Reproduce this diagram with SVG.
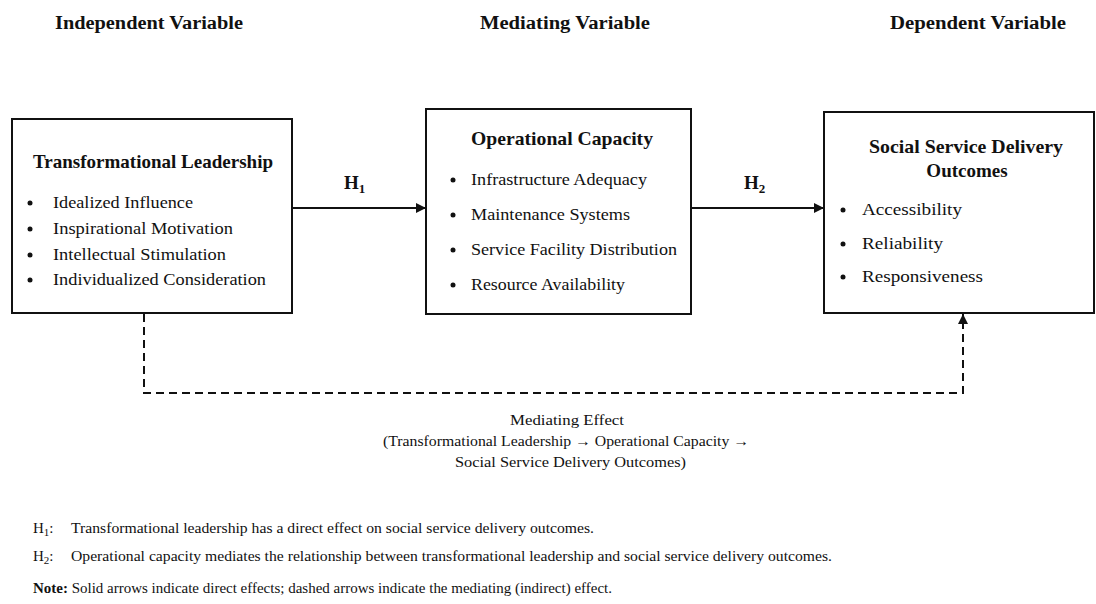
<svg xmlns="http://www.w3.org/2000/svg" width="1096" height="604" viewBox="0 0 1096 604">
<style>
text{font-family:"Liberation Serif","Times New Roman",serif;fill:#111}
.hd{font-size:18px;font-weight:bold}
.tt{font-size:19px;font-weight:bold}
.it{font-size:17px}
.md{font-size:15px}
.ft{font-size:15px}
.box{fill:#fff;stroke:#111;stroke-width:2}
.sol{stroke:#111;stroke-width:2;fill:none}
.dash{stroke:#111;stroke-width:2;fill:none;stroke-dasharray:8 5}
.bul{fill:#111}
</style>
<defs>
<marker id="ah" markerWidth="10" markerHeight="10" refX="10" refY="5" orient="auto" markerUnits="userSpaceOnUse">
<path d="M0,0 L10,5 L0,10 Z" fill="#111"/>
</marker>
</defs>
<rect width="1096" height="604" fill="#fff"/>
<g id="headers">
<text class="hd" x="55" y="29" textLength="188" lengthAdjust="spacingAndGlyphs">Independent Variable</text>
<text class="hd" x="480" y="29" textLength="170" lengthAdjust="spacingAndGlyphs">Mediating Variable</text>
<text class="hd" x="890" y="29" textLength="176" lengthAdjust="spacingAndGlyphs">Dependent Variable</text>
</g>
<g id="connectors">
<line class="sol" x1="292" y1="208" x2="426" y2="208" marker-end="url(#ah)"/>
<line class="sol" x1="691" y1="208" x2="824" y2="208" marker-end="url(#ah)"/>
<polyline class="dash" points="144,314 144,393 963,393 963,314" marker-end="url(#ah)"/>
<text class="tt" x="344" y="189">H<tspan font-size="13" dy="4">1</tspan></text>
<text class="tt" x="744" y="189">H<tspan font-size="13" dy="4">2</tspan></text>
</g>
<g id="node-tl">
<rect class="box" x="12" y="119" width="280" height="194"/>
<text class="tt" x="33" y="168" textLength="240" lengthAdjust="spacingAndGlyphs">Transformational Leadership</text>
<circle class="bul" cx="30" cy="203" r="2.5"/>
<text class="it" x="53" y="208" textLength="140" lengthAdjust="spacingAndGlyphs">Idealized Influence</text>
<circle class="bul" cx="30" cy="229" r="2.5"/>
<text class="it" x="53" y="234" textLength="180" lengthAdjust="spacingAndGlyphs">Inspirational Motivation</text>
<circle class="bul" cx="30" cy="255" r="2.5"/>
<text class="it" x="53" y="260" textLength="173" lengthAdjust="spacingAndGlyphs">Intellectual Stimulation</text>
<circle class="bul" cx="30" cy="280" r="2.5"/>
<text class="it" x="53" y="285" textLength="213" lengthAdjust="spacingAndGlyphs">Individualized Consideration</text>
</g>
<g id="node-oc">
<rect class="box" x="426" y="109" width="265" height="205"/>
<text class="tt" x="471" y="145" textLength="182" lengthAdjust="spacingAndGlyphs">Operational Capacity</text>
<circle class="bul" cx="453" cy="180" r="2.5"/>
<text class="it" x="471" y="185" textLength="176" lengthAdjust="spacingAndGlyphs">Infrastructure Adequacy</text>
<circle class="bul" cx="453" cy="215" r="2.5"/>
<text class="it" x="471" y="220" textLength="159" lengthAdjust="spacingAndGlyphs">Maintenance Systems</text>
<circle class="bul" cx="453" cy="250" r="2.5"/>
<text class="it" x="471" y="255" textLength="206" lengthAdjust="spacingAndGlyphs">Service Facility Distribution</text>
<circle class="bul" cx="453" cy="285" r="2.5"/>
<text class="it" x="471" y="290" textLength="154" lengthAdjust="spacingAndGlyphs">Resource Availability</text>
</g>
<g id="node-ssdo">
<rect class="box" x="824" y="112" width="270" height="201"/>
<text class="tt" x="869" y="153" textLength="194" lengthAdjust="spacingAndGlyphs">Social Service Delivery</text>
<text class="tt" x="967" y="177" text-anchor="middle">Outcomes</text>
<circle class="bul" cx="843" cy="210" r="2.5"/>
<text class="it" x="862" y="215" textLength="100" lengthAdjust="spacingAndGlyphs">Accessibility</text>
<circle class="bul" cx="843" cy="244" r="2.5"/>
<text class="it" x="862" y="249" textLength="81" lengthAdjust="spacingAndGlyphs">Reliability</text>
<circle class="bul" cx="843" cy="277" r="2.5"/>
<text class="it" x="862" y="282" textLength="121" lengthAdjust="spacingAndGlyphs">Responsiveness</text>
</g>
<g id="mediating-label">
<text class="md" x="510" y="425" textLength="114" lengthAdjust="spacingAndGlyphs">Mediating Effect</text>
<text class="md" x="383" y="446" textLength="366" lengthAdjust="spacingAndGlyphs">(Transformational Leadership → Operational Capacity →</text>
<text class="md" x="455" y="467" textLength="231" lengthAdjust="spacingAndGlyphs">Social Service Delivery Outcomes)</text>
</g>
<g id="notes">
<text class="ft" x="33" y="533">H<tspan font-size="11" dy="3">1</tspan><tspan dy="-3">:</tspan></text>
<text class="ft" x="71" y="533" textLength="523" lengthAdjust="spacingAndGlyphs">Transformational leadership has a direct effect on social service delivery outcomes.</text>
<text class="ft" x="33" y="561">H<tspan font-size="11" dy="3">2</tspan><tspan dy="-3">:</tspan></text>
<text class="ft" x="71" y="561" textLength="761" lengthAdjust="spacingAndGlyphs">Operational capacity mediates the relationship between transformational leadership and social service delivery outcomes.</text>
<text class="ft" x="33" y="593" textLength="579" lengthAdjust="spacingAndGlyphs"><tspan font-weight="bold">Note:</tspan> Solid arrows indicate direct effects; dashed arrows indicate the mediating (indirect) effect.</text>
</g>
</svg>
